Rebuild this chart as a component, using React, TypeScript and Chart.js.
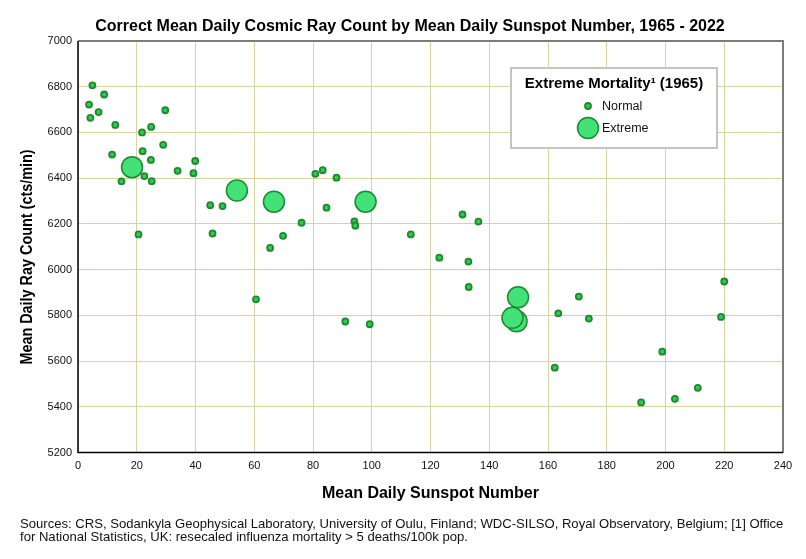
import React, { useEffect, useRef } from "react";
import { Chart, registerables } from "chart.js";

Chart.register(...registerables);

const normalSunspots = [
  4.9, 8.9, 3.75, 7.0, 4.2, 12.7, 29.7, 21.8, 24.9, 29.0,
  22.0, 11.6, 24.8, 22.6, 14.8, 25.1, 39.9, 33.9, 39.3, 45.0,
  49.2, 80.8, 83.3, 84.6, 88.0, 20.6, 45.8, 76.1, 69.8, 65.4,
  60.6, 91.0, 99.3, 94.1, 94.4, 113.3, 130.9, 136.3, 123.0, 132.9,
  133.0, 170.5, 163.5, 173.9, 198.9, 162.3, 220.0, 218.9, 211.0, 203.2,
  191.7,
];
const normalRays = [
  6806, 6766, 6722, 6689, 6664, 6633, 6697, 6600, 6624, 6546,
  6518, 6503, 6480, 6409, 6386, 6387, 6475, 6432, 6422, 6282,
  6278, 6419, 6435, 6271, 6402, 6154, 6158, 6205, 6148, 6095,
  5870, 5773, 5761, 6211, 6192, 6154, 6241, 6210, 6052, 6035,
  5924, 5882, 5809, 5786, 5641, 5571, 5948, 5793, 5483, 5435,
  5419,
];
const extremeSunspots = [18.4, 54.1, 66.7, 97.9, 149.8, 149.3, 147.9];
const extremeRays = [6448, 6346, 6297, 6297, 5879, 5774, 5789];

const xTickValues = [0, 20, 40, 60, 80, 100, 120, 140, 160, 180, 200, 220, 240];
const yTickValues = [5200, 5400, 5600, 5800, 6000, 6200, 6400, 6600, 6800, 7000];

const chartTitle =
  "Correct Mean Daily Cosmic Ray Count by Mean Daily Sunspot Number, 1965 - 2022";
const xTitle = "Mean Daily Sunspot Number";
const yTitle = "Mean Daily Ray Count (cts/min)";
const legendTitle = "Extreme Mortality\u00B9 (1965)";
const legendLabels = ["Normal", "Extreme"];
const footerLines = [
  "Sources: CRS, Sodankyla Geophysical Laboratory, University of Oulu, Finland; WDC-SILSO, Royal Observatory, Belgium; [1] Office",
  "for National Statistics, UK: resecaled influenza mortality > 5 deaths/100k pop.",
];

const FONT = "'Liberation Sans', Arial, sans-serif";
const SMALL_FILL = "#33c850";
const SMALL_BORDER = "#1d8a2e";
const BIG_FILL = "#42e278";
const BIG_BORDER = "#1e8a32";

const decoPlugin = {
  id: "deco",
  beforeDraw(chart: any) {
    const ctx = chart.ctx;
    ctx.save();
    ctx.fillStyle = "#ffffff";
    ctx.fillRect(0, 0, chart.width, chart.height);
    ctx.restore();
  },
  afterDraw(chart: any) {
    const ctx = chart.ctx as CanvasRenderingContext2D;
    const a = chart.chartArea;
    ctx.save();
    // top & right frame
    ctx.strokeStyle = "#7c7c7c";
    ctx.lineWidth = 2;
    ctx.beginPath();
    ctx.moveTo(a.left, a.top);
    ctx.lineTo(a.right, a.top);
    ctx.lineTo(a.right, a.bottom);
    ctx.stroke();
    // left & bottom axis lines
    ctx.strokeStyle = "#000000";
    ctx.lineWidth = 1.5;
    ctx.beginPath();
    ctx.moveTo(a.left, a.top);
    ctx.lineTo(a.left, a.bottom);
    ctx.lineTo(a.right, a.bottom);
    ctx.stroke();

    ctx.fillStyle = "#000000";
    // title
    ctx.font = `bold 16px ${FONT}`;
    ctx.textAlign = "center";
    ctx.textBaseline = "middle";
    ctx.fillText(chartTitle, 410, 27);
    // x title
    ctx.fillText(xTitle, (a.left + a.right) / 2, 494);
    // y title (slightly condensed)
    ctx.save();
    ctx.translate(28, 257);
    ctx.rotate(-Math.PI / 2);
    ctx.scale(0.9, 1);
    ctx.fillText(yTitle, 0, 0);
    ctx.restore();

    // footer
    ctx.font = `13.1px ${FONT}`;
    ctx.textAlign = "left";
    ctx.fillStyle = "#111111";
    ctx.fillText(footerLines[0], 20, 524);
    ctx.fillText(footerLines[1], 20, 537);

    // legend box
    const lx = 511, ly = 68, lw = 206, lh = 80;
    ctx.fillStyle = "#ffffff";
    ctx.fillRect(lx, ly, lw, lh);
    ctx.strokeStyle = "#c4c4c4";
    ctx.lineWidth = 2;
    ctx.strokeRect(lx, ly, lw, lh);
    ctx.fillStyle = "#000000";
    ctx.font = `bold 15px ${FONT}`;
    ctx.textAlign = "center";
    ctx.fillText(legendTitle, lx + lw / 2, 84);
    // symbols
    ctx.beginPath();
    ctx.arc(588, 106, 3, 0, Math.PI * 2);
    ctx.fillStyle = SMALL_FILL;
    ctx.fill();
    ctx.lineWidth = 1.8;
    ctx.strokeStyle = SMALL_BORDER;
    ctx.stroke();
    ctx.beginPath();
    ctx.arc(588, 128, 10.5, 0, Math.PI * 2);
    ctx.fillStyle = BIG_FILL;
    ctx.fill();
    ctx.lineWidth = 1.5;
    ctx.strokeStyle = BIG_BORDER;
    ctx.stroke();
    ctx.fillStyle = "#111111";
    ctx.font = `12.5px ${FONT}`;
    ctx.textAlign = "left";
    ctx.fillText(legendLabels[0], 602, 107);
    ctx.fillText(legendLabels[1], 602, 129);
    ctx.restore();
  },
};

export default function App() {
  const canvasRef = useRef<HTMLCanvasElement | null>(null);

  useEffect(() => {
    const canvas = canvasRef.current;
    if (!canvas) return;
    const chart = new Chart(canvas, {
      type: "scatter",
      data: {
        datasets: [
          {
            label: legendLabels[0],
            data: normalSunspots.map((x, i) => ({ x, y: normalRays[i] })),
            pointRadius: 3,
            pointBackgroundColor: SMALL_FILL,
            pointBorderColor: SMALL_BORDER,
            pointBorderWidth: 1.8,
            order: 2,
          },
          {
            label: legendLabels[1],
            data: extremeSunspots.map((x, i) => ({ x, y: extremeRays[i] })),
            pointRadius: 10.5,
            pointBackgroundColor: BIG_FILL,
            pointBorderColor: BIG_BORDER,
            pointBorderWidth: 1.5,
            order: 1,
          },
        ],
      },
      options: {
        animation: false,
        responsive: false,
        devicePixelRatio: 1,
        layout: { padding: { left: 0, top: 41, right: 23, bottom: 76.5 } },
        plugins: {
          legend: { display: false },
          title: { display: false },
          tooltip: { enabled: false },
        },
        scales: {
          x: {
            type: "linear",
            min: 0,
            max: 240,
            afterBuildTicks: (scale: any) => {
              scale.ticks = xTickValues.map((v) => ({ value: v }));
            },
            afterFit: (scale: any) => {
              scale.height = 30;
            },
            grid: { color: "#d9d3a2", lineWidth: 1, drawTicks: false },
            border: { display: false },
            ticks: {
              padding: 7,
              color: "#111111",
              font: { family: FONT, size: 11 },
              maxRotation: 0,
              callback: (v: any) => String(v),
            },
          },
          y: {
            type: "linear",
            min: 5200,
            max: 7000,
            afterBuildTicks: (scale: any) => {
              scale.ticks = yTickValues.map((v) => ({ value: v }));
            },
            afterFit: (scale: any) => {
              scale.width = 78;
            },
            grid: { color: "#d9d3a2", lineWidth: 1, drawTicks: false },
            border: { display: false },
            ticks: {
              padding: 6,
              color: "#111111",
              font: { family: FONT, size: 11 },
              callback: (v: any) => String(v),
            },
          },
        },
      },
      plugins: [decoPlugin],
    });
    return () => chart.destroy();
  }, []);

  return (
    <div style={{ position: "absolute", left: 0, top: 0, width: 806, height: 559 }}>
      <canvas ref={canvasRef} width={806} height={559} style={{ display: "block" }} />
    </div>
  );
}
